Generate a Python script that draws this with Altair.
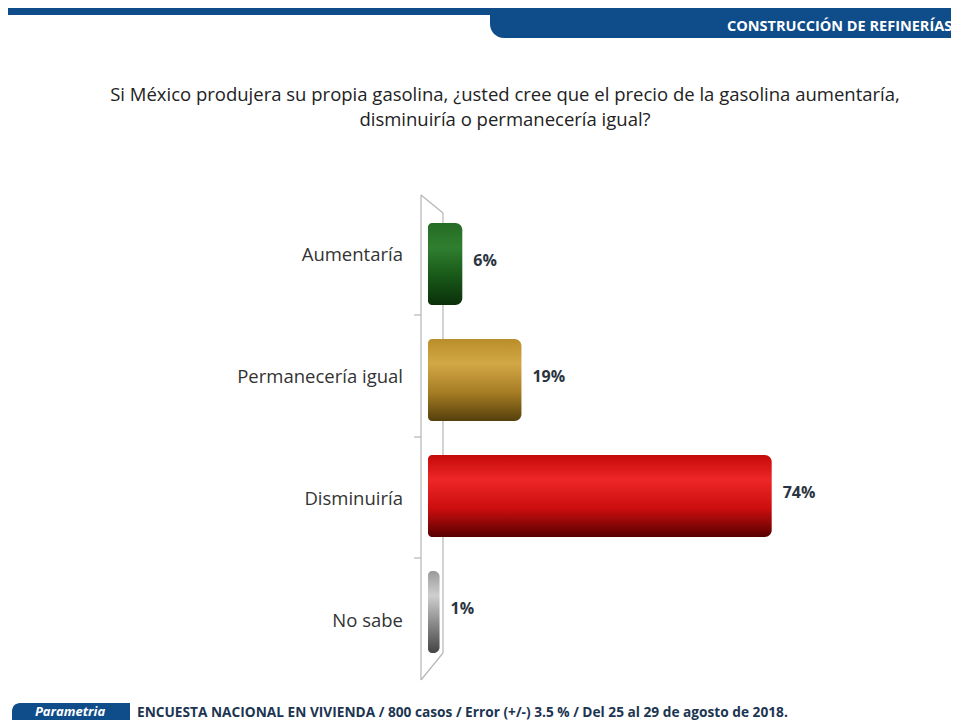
import altair as alt
import pandas as pd

categories = ["Aumentaría", "Permanecería igual", "Disminuiría", "No sabe"]
values = [6, 19, 74, 1]
value_labels = ["6%", "19%", "74%", "1%"]

question_lines = [
    "Si México produjera su propia gasolina, ¿usted cree que el precio de la gasolina aumentaría,",
    "disminuiría o permanecería igual?",
]
header_text = "CONSTRUCCIÓN DE REFINERÍAS"
footer_text = "ENCUESTA NACIONAL EN VIVIENDA / 800 casos / Error (+/-) 3.5 % / Del 25 al 29 de agosto de 2018."
logo_text = "Parametria"

gradients = {
    "Aumentaría": ["#256b25", "#2f7f2f", "#185818", "#0a300a"],
    "Permanecería igual": ["#b98e2a", "#d2a846", "#a67d24", "#55400c"],
    "Disminuiría": ["#c50a0a", "#ee2626", "#cc0e0e", "#580000"],
    "No sabe": ["#9a9a9a", "#cfcfcf", "#888888", "#444444"],
}

FONT = "Open Sans"
W, H = 943, 712
Y_RANGE = [198, 662]
LABEL_RANGE = [186, 674]
X_RANGE = [420, 875]

df = pd.DataFrame({"cat": categories, "val": values, "lab": value_labels, "zero": [0] * 4})

yenc = alt.Y("cat:N", sort=categories,
             scale=alt.Scale(domain=categories, range=Y_RANGE, paddingInner=0.293, paddingOuter=0.1465),
             axis=None)
ylab = alt.Y("cat:N", sort=categories,
             scale=alt.Scale(domain=categories, range=LABEL_RANGE, paddingInner=0, paddingOuter=0),
             axis=None)
xscale = alt.Scale(domain=[0, 100], range=X_RANGE)

base = alt.Chart(df)
one = alt.Chart(pd.DataFrame({"a": [0]}))

layers = []

# 3D wall
wall_color = "#b5b5b5"
wall_lines = [
    (413, 187, 413, 672),
    (435, 205, 435, 645),
    (413, 187, 435, 205),
    (413, 672, 435, 645),
]
for x1, y1, x2, y2 in wall_lines:
    layers.append(one.mark_rule(color=wall_color, strokeWidth=1.2).encode(
        x=alt.value(x1), y=alt.value(y1), x2=alt.value(x2), y2=alt.value(y2)))
for yy in [307, 429, 550]:
    layers.append(one.mark_rule(color=wall_color, strokeWidth=1.2).encode(
        x=alt.value(406), x2=alt.value(413), y=alt.value(yy), y2=alt.value(yy)))

# bars (cylinders)
for cat in categories:
    c = gradients[cat]
    grad = alt.LinearGradient(
        gradient="linear", x1=0, y1=0, x2=0, y2=1,
        stops=[alt.GradientStop(color=c[0], offset=0),
               alt.GradientStop(color=c[1], offset=0.3),
               alt.GradientStop(color=c[2], offset=0.65),
               alt.GradientStop(color=c[3], offset=1)])
    layers.append(base.transform_filter(alt.datum.cat == cat).mark_bar(
        color=grad, x2Offset=7, cornerRadiusTopRight=7, cornerRadiusBottomRight=7,
        cornerRadiusTopLeft=4, cornerRadiusBottomLeft=4
    ).encode(x=alt.X("zero:Q", scale=xscale, axis=None), x2="val:Q", y=yenc))

# value labels
layers.append(base.mark_text(align="left", baseline="middle", dx=18, dy=-3, font=FONT,
                             fontSize=16, fontWeight="bold", color="#2a3440").encode(
    x=alt.X("val:Q", scale=xscale, axis=None), y=yenc, text="lab:N"))

# category labels
layers.append(base.mark_text(align="right", baseline="middle", font=FONT,
                             fontSize=18.5, color="#333333").encode(
    x=alt.value(395), y=ylab, text="cat:N"))

# question
for i, line in enumerate(question_lines):
    layers.append(one.mark_text(align="center", baseline="middle", font=FONT,
                                fontSize=18.5, color="#222222", text=line).encode(
        x=alt.value(497), y=alt.value(87 + 25 * i)))

# header band
layers.append(one.mark_rect(color="#0f4c8a").encode(
    x=alt.value(0), x2=alt.value(W), y=alt.value(0), y2=alt.value(7)))
layers.append(one.mark_rect(color="#0f4c8a", cornerRadiusBottomLeft=14).encode(
    x=alt.value(482), x2=alt.value(W), y=alt.value(0), y2=alt.value(30)))
layers.append(one.mark_text(align="left", baseline="middle", font=FONT, fontSize=14.5,
                            fontWeight="bold", color="white", text=header_text).encode(
    x=alt.value(719), y=alt.value(19)))

# footer
layers.append(one.mark_rect(color="#0f4c8a", cornerRadiusTopLeft=8).encode(
    x=alt.value(4), x2=alt.value(122), y=alt.value(695), y2=alt.value(712)))
layers.append(one.mark_text(align="center", baseline="middle", font=FONT, fontSize=13,
                            fontWeight="bold", fontStyle="italic", color="white",
                            text=logo_text).encode(
    x=alt.value(62), y=alt.value(704)))
layers.append(one.mark_text(align="left", baseline="middle", font=FONT, fontSize=13.7,
                            fontWeight="bold", color="#1b3552", text=footer_text).encode(
    x=alt.value(129), y=alt.value(705)))

chart = alt.layer(*layers).resolve_scale(y="independent").properties(
    width=W, height=H,
    autosize=alt.AutoSizeParams(type="none"),
    padding=0,
    background="white",
).configure_view(stroke=None)

chart.save("out.html", embed_options={"renderer": "svg", "actions": False})
